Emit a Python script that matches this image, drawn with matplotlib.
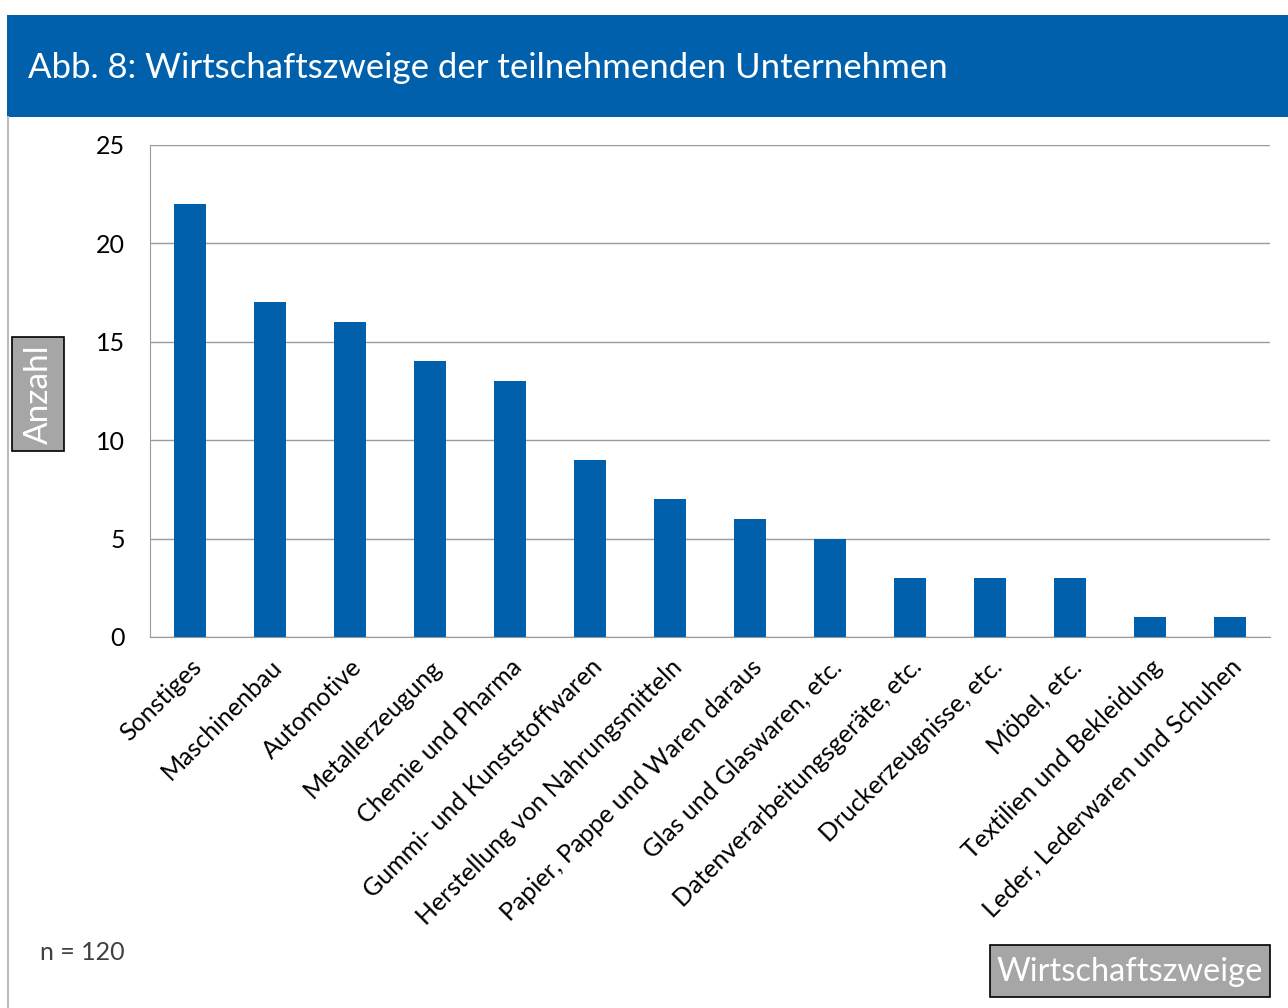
import matplotlib.pyplot as plt
from matplotlib.patches import Rectangle

kategorien = ['Sonstiges', 'Maschinenbau', 'Automotive', 'Metallerzeugung',
              'Chemie und Pharma', 'Gummi- und Kunststoffwaren',
              'Herstellung von Nahrungsmitteln', 'Papier, Pappe und Waren daraus',
              'Glas und Glaswaren, etc.', 'Datenverarbeitungsgeräte, etc.',
              'Druckerzeugnisse, etc.', 'Möbel, etc.', 'Textilien und Bekleidung',
              'Leder, Lederwaren und Schuhen']
anzahl = [22, 17, 16, 14, 13, 9, 7, 6, 5, 3, 3, 3, 1, 1]
y_ticks = [0, 5, 10, 15, 20, 25]

plt.rcParams['font.family'] = ['Lato', 'DejaVu Sans']
blau = '#0060AC'
grau = '#A6A6A6'

W, H = 1288, 1008
fig = plt.figure(figsize=(W / 100, H / 100), dpi=100)


def box(x0, y0, x1, y1, **kw):
    # Rechteck in Pixelkoordinaten (y von oben)
    fig.patches.append(Rectangle((x0 / W, 1 - y1 / H), (x1 - x0) / W, (y1 - y0) / H,
                                 transform=fig.transFigure, **kw))


# Kopfzeile
box(7, 15, W, 117, facecolor=blau, edgecolor='none', zorder=0)
fig.text(28 / W, 1 - 68 / H, 'Abb. 8: Wirtschaftszweige der teilnehmenden Unternehmen',
         color='white', fontsize=25, va='center', ha='left')
# linker Rand
fig.lines.append(plt.Line2D([7.5 / W, 7.5 / W], [0, 1 - 117 / H],
                            transform=fig.transFigure, color='#BBBBBB', lw=1.5))

ax = fig.add_axes([150 / W, 1 - 637 / H, (1270 - 150) / W, (637 - 145) / H])
x = range(len(kategorien))
ax.bar(x, anzahl, width=0.4, color=blau, zorder=3)
ax.set_xlim(-0.5, len(kategorien) - 0.5)
ax.set_ylim(0, 25)
ax.set_yticks(y_ticks)
ax.yaxis.grid(True, color='#9A9A9A', lw=1, zorder=0)
ax.tick_params(axis='y', length=0, pad=18, labelsize=18)
ax.tick_params(axis='x', length=0, pad=13)
ax.set_xticks(list(x))
ax.set_xticklabels(kategorien, rotation=45, ha='right', rotation_mode='anchor',
                   fontsize=18)
for s in ['top', 'right']:
    ax.spines[s].set_visible(False)
ax.spines['left'].set_color('#9A9A9A')
ax.spines['bottom'].set_color('#9A9A9A')

# Achsenbeschriftungen als Kästen
box(12, 337, 64, 451, facecolor=grau, edgecolor='black', lw=1.2)
fig.text(39 / W, 1 - 394 / H, 'Anzahl', rotation=90, color='white', fontsize=24,
         ha='center', va='center')
box(990, 945, 1270, 997, facecolor=grau, edgecolor='black', lw=1.2)
fig.text(1130 / W, 1 - 972 / H, 'Wirtschaftszweige', color='white', fontsize=23.5,
         ha='center', va='center')
fig.text(40 / W, 1 - 953 / H, 'n = 120', color='#404040', fontsize=18,
         ha='left', va='center')

fig.savefig('out.png', dpi=100)
